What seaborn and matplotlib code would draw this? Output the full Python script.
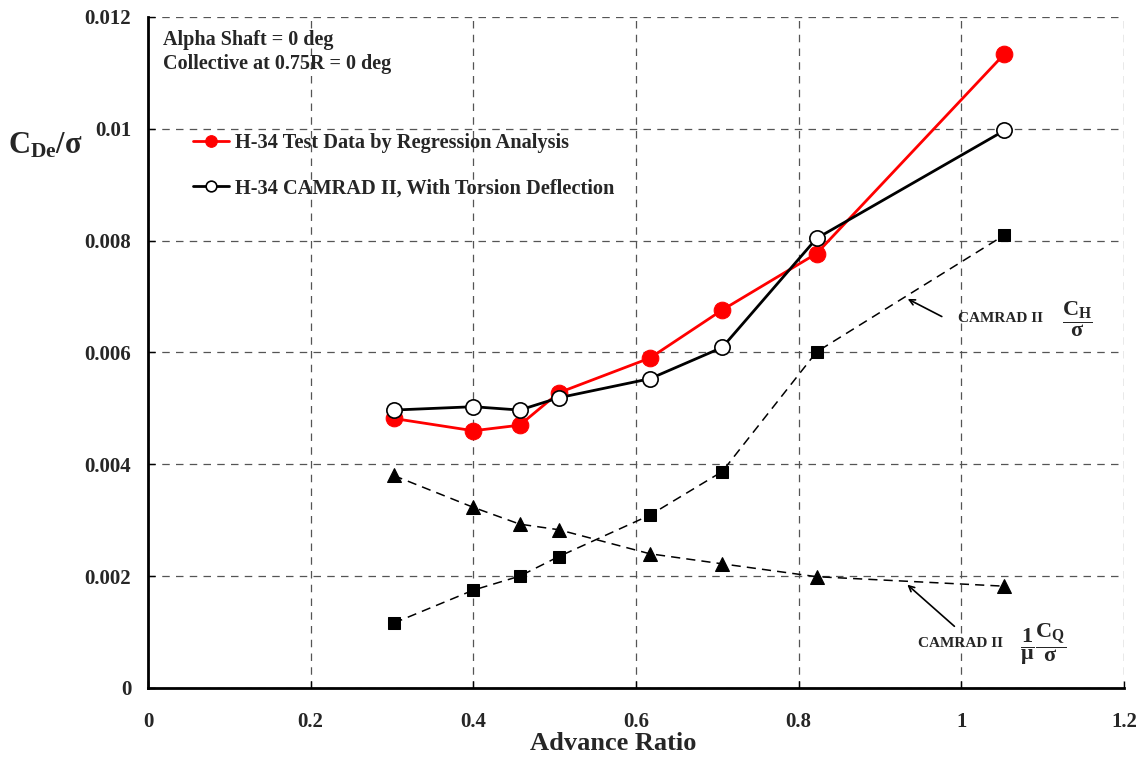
import numpy as np
import pandas as pd
import seaborn as sns
import matplotlib
matplotlib.use("Agg")
import matplotlib.pyplot as plt

# advance ratio points
mu = [0.302, 0.400, 0.457, 0.505, 0.617, 0.706, 0.822, 1.053]
test_data = [0.00482, 0.00460, 0.00470, 0.00528, 0.00590, 0.00676, 0.00777, 0.01134]
camrad_torsion = [0.00497, 0.00503, 0.00497, 0.00519, 0.00553, 0.00609, 0.00804, 0.00997]
camrad_ch = [0.00116, 0.00175, 0.00200, 0.00235, 0.00309, 0.00387, 0.00601, 0.00810]
camrad_cq = [0.00380, 0.00323, 0.00293, 0.00283, 0.00240, 0.00222, 0.00199, 0.00182]

x_ticks = [0, 0.2, 0.4, 0.6, 0.8, 1, 1.2]
x_labels = ['0', '0.2', '0.4', '0.6', '0.8', '1', '1.2']
y_ticks = [0, 0.002, 0.004, 0.006, 0.008, 0.01, 0.012]
y_labels = ['0', '0.002', '0.004', '0.006', '0.008', '0.01', '0.012']

sns.set_style("white")
plt.rcParams['font.family'] = ['Liberation Serif', 'DejaVu Serif']
plt.rcParams['font.weight'] = 'bold'
plt.rcParams['mathtext.fontset'] = 'custom'
plt.rcParams['mathtext.rm'] = 'Liberation Serif:bold'
plt.rcParams['mathtext.it'] = 'Liberation Serif:bold'
plt.rcParams['mathtext.bf'] = 'Liberation Serif:bold'

df = pd.DataFrame({'mu': mu, 'test': test_data, 'tors': camrad_torsion,
                   'ch': camrad_ch, 'cq': camrad_cq})

fig = plt.figure(figsize=(11.43, 7.65), dpi=100)
ax = fig.add_axes([0.1295, 0.1007, 0.8539, 0.8771])

sns.lineplot(data=df, x='mu', y='ch', ax=ax, color='black', lw=1.1, ls=(0, (6, 4)),
             marker='s', markersize=9, markeredgecolor='black', sort=False)
sns.lineplot(data=df, x='mu', y='cq', ax=ax, color='black', lw=1.1, ls=(0, (6, 4)),
             marker='^', markersize=10, markeredgecolor='black', sort=False)
sns.lineplot(data=df, x='mu', y='test', ax=ax, color='red', lw=2, marker='o',
             markersize=12, markeredgecolor='red',
             label='H-34 Test Data by Regression Analysis', sort=False)
sns.lineplot(data=df, x='mu', y='tors', ax=ax, color='black', lw=2, marker='o',
             markersize=11, markerfacecolor='white', markeredgecolor='black',
             markeredgewidth=1.2, label='H-34 CAMRAD II, With Torsion Deflection', sort=False)

ax.set_xlim(0, 1.2)
ax.set_ylim(0, 0.012)
ax.set_xticks(x_ticks)
ax.set_xticklabels(x_labels)
ax.set_yticks(y_ticks)
ax.set_yticklabels(y_labels)
ax.tick_params(axis='both', labelsize=15, direction='in', length=5, width=1, color='black',
               left=True, bottom=True)
ax.tick_params(axis='x', pad=17)
ax.tick_params(axis='y', pad=12)
for lab in ax.get_xticklabels() + ax.get_yticklabels():
    lab.set_fontweight('bold')

ax.grid(True, ls=(0, (6, 5)), color='#555555', lw=0.9)
ax.set_axisbelow(True)
for s in ['top', 'right']:
    ax.spines[s].set_visible(False)
for s in ['left', 'bottom']:
    ax.spines[s].set_color('black')
    ax.spines[s].set_linewidth(2)

ax.set_xlabel('Advance Ratio', fontsize=19, fontweight='bold')
ax.xaxis.set_label_coords(0.477, -0.066)
ax.set_ylabel('')
fig.text(0.007, 0.81, r'$\mathregular{C_{De}/\sigma}$', fontsize=22, fontweight='bold',
         ha='left', va='center')

ax.text(0.0185, 0.01159, 'Alpha Shaft = 0 deg', fontsize=14.5, fontweight='bold', va='center')
ax.text(0.0185, 0.01116, 'Collective at 0.75R = 0 deg', fontsize=14.5, fontweight='bold', va='center')

leg = ax.legend(loc='upper left', bbox_to_anchor=(0.027, 0.855), frameon=False,
                fontsize=14.7, handlelength=1.8, handletextpad=0.25, labelspacing=1.25,
                markerscale=0.7)
for t in leg.get_texts():
    t.set_fontweight('bold')

# annotations
ax.annotate('', xy=(0.931, 0.00698), xytext=(0.979, 0.00662),
            arrowprops=dict(arrowstyle='->', color='black', lw=1.2))
ax.text(1.048, 0.00660, 'CAMRAD II', fontsize=11, fontweight='bold', va='center', ha='center')
ax.text(1.143, 0.00660, r'$\dfrac{C_H}{\sigma}$', fontsize=16, ha='center', va='center')

ax.annotate('', xy=(0.931, 0.00188), xytext=(0.994, 0.00107),
            arrowprops=dict(arrowstyle='->', color='black', lw=1.2))
ax.text(0.999, 0.00080, 'CAMRAD II', fontsize=11, fontweight='bold', va='center', ha='center')
ax.text(1.100, 0.00078, r'$\dfrac{1}{\mu}\dfrac{C_Q}{\sigma}$', fontsize=16, ha='center', va='center')

fig.savefig('out.png', dpi=100)
